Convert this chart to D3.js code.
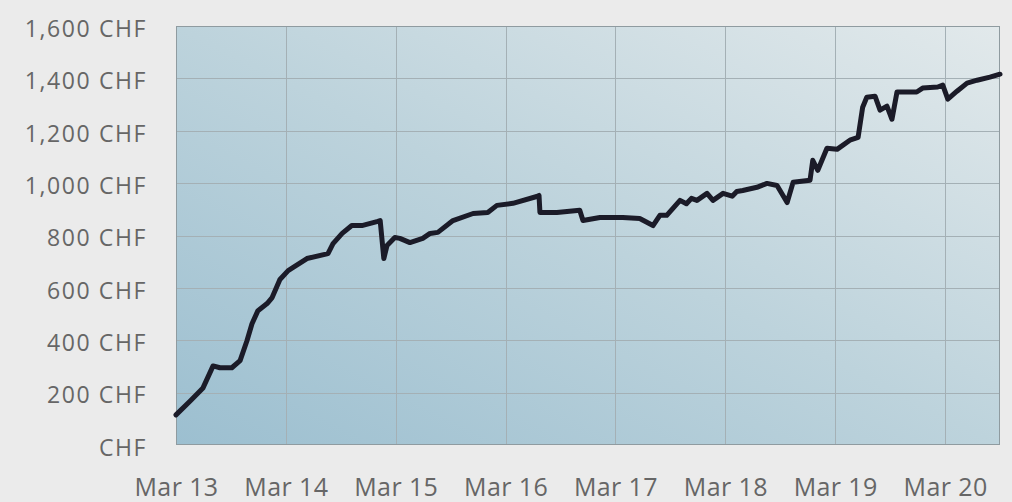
<!DOCTYPE html>
<html>
<head>
<meta charset="utf-8">
<script src="https://cdn.jsdelivr.net/npm/d3@7"></script>
<style>
  html, body { margin: 0; padding: 0; background: #ebebeb; }
  svg { display: block; }
  .tick text { font-family: "Open Sans", sans-serif; fill: #666666; }
</style>
</head>
<body>
<svg id="chart" width="1012" height="502"></svg>
<script>
// ---- data ----
// hours since Mar 13 00:00
const hours = [0, 3.1, 5.9, 8.1, 9.6, 12.2, 14.0, 15.5, 16.6, 17.9, 19.9, 21.0, 22.7, 24.5, 25.6, 28.6,
  33.2, 34.3, 36.3, 38.4, 40.6, 44.1, 44.6, 45.4, 46.1, 47.8, 48.9, 51.1, 53.9, 55.5, 57.2, 60.5,
  64.9, 68.1, 70.1, 73.6, 78.8, 79.3, 79.5, 83.2, 88.2, 88.9, 92.6, 97.6, 101.3, 104.2, 105.7, 107.2,
  110.1, 111.5, 112.6, 113.8, 116.0, 117.3, 119.5, 121.5, 122.5, 123.8, 126.9, 129.1, 131.3, 133.5,
  134.8, 138.5, 139.1, 140.2, 142.2, 144.4, 147.2, 149.0, 150.0, 150.9, 152.7, 153.8, 155.3, 156.4,
  157.5, 159.7, 161.8, 163.1, 166.4, 167.5, 168.6, 170.6, 172.8, 175.0, 177.8, 180.0];
const values = [115, 168, 218, 302, 295, 295, 322, 398, 463, 513, 540, 563, 632, 666, 678, 712,
  731, 769, 808, 838, 838, 854, 857, 712, 762, 792, 789, 773, 789, 808, 812, 857,
  884, 888, 915, 923, 949, 953, 888, 888, 896, 857, 869, 869, 865, 838, 877, 877,
  934, 921, 942, 934, 961, 934, 961, 950, 968, 972, 984, 999, 991, 926,
  1003, 1011, 1087, 1049, 1133, 1129, 1164, 1175, 1290, 1328, 1332, 1279, 1294, 1244,
  1348, 1348, 1348, 1363, 1367, 1374, 1321, 1351, 1382, 1393, 1405, 1416];
const yTicks = [0, 200, 400, 600, 800, 1000, 1200, 1400, 1600];
const xTickLabels = ["Mar 13", "Mar 14", "Mar 15", "Mar 16", "Mar 17", "Mar 18", "Mar 19", "Mar 20"];
const startDate = Date.UTC(2020, 2, 13);
const endDate = Date.UTC(2020, 2, 20, 12);

// ---- layout ----
const svg = d3.select("#chart");
const L = 176, R = 1000, T = 26, B = 445;

const x = d3.scaleUtc().domain([new Date(startDate), new Date(endDate)]).range([L, R]);
const y = d3.scaleLinear().domain([0, 1600]).range([B, T]);

const data = hours.map((h, i) => ({ t: new Date(startDate + h * 3600e3), v: values[i] }));
const dayTicks = xTickLabels.map((_, i) => new Date(startDate + i * 86400e3));

// gradient fill for plot area
const defs = svg.append("defs");
const grad = defs.append("linearGradient").attr("id", "bg")
  .attr("x1", "0").attr("y1", "1").attr("x2", "1").attr("y2", "0");
grad.append("stop").attr("offset", "0").attr("stop-color", "#9cbfd0");
grad.append("stop").attr("offset", "0.5").attr("stop-color", "#bdd3dc");
grad.append("stop").attr("offset", "1").attr("stop-color", "#e2e9eb");

svg.append("rect").attr("x", L).attr("y", T).attr("width", R - L).attr("height", B - T)
  .attr("fill", "url(#bg)");

// gridlines
const grid = svg.append("g").attr("stroke", "#a4b0b5").attr("stroke-width", 1);
grid.selectAll("line.h").data(yTicks.filter(d => d > 0 && d < 1600)).join("line")
  .attr("class", "h").attr("x1", L).attr("x2", R)
  .attr("y1", d => Math.round(y(d)) + 0.5).attr("y2", d => Math.round(y(d)) + 0.5);
grid.selectAll("line.v").data(dayTicks.slice(1)).join("line")
  .attr("class", "v").attr("y1", T).attr("y2", B)
  .attr("x1", d => Math.round(x(d)) + 0.5).attr("x2", d => Math.round(x(d)) + 0.5);

// border
svg.append("rect").attr("x", L + 0.5).attr("y", T + 0.5).attr("width", R - L - 1).attr("height", B - T - 1)
  .attr("fill", "none").attr("stroke", "#8f9ba0").attr("stroke-width", 1);

// axes
const yAxis = svg.append("g").attr("transform", `translate(${L},0)`)
  .call(d3.axisLeft(y).tickValues(yTicks).tickSize(0).tickPadding(29)
    .tickFormat(d => d === 0 ? "CHF" : d3.format(",")(d) + " CHF"));
yAxis.select(".domain").remove();
yAxis.selectAll("text").attr("font-size", 23).attr("letter-spacing", "1.6px").attr("dy", "0.45em");

const xAxis = svg.append("g").attr("transform", `translate(0,${B})`)
  .call(d3.axisBottom(x).tickValues(dayTicks).tickSize(0).tickPadding(33)
    .tickFormat((d, i) => xTickLabels[i]));
xAxis.select(".domain").remove();
xAxis.selectAll("text").attr("font-size", 25).attr("letter-spacing", "0.4px");

// line
svg.append("path").datum(data)
  .attr("fill", "none").attr("stroke", "#1b1b28").attr("stroke-width", 5)
  .attr("stroke-linejoin", "round").attr("stroke-linecap", "round")
  .attr("d", d3.line().x(d => x(d.t)).y(d => y(d.v)));
</script>
</body>
</html>
